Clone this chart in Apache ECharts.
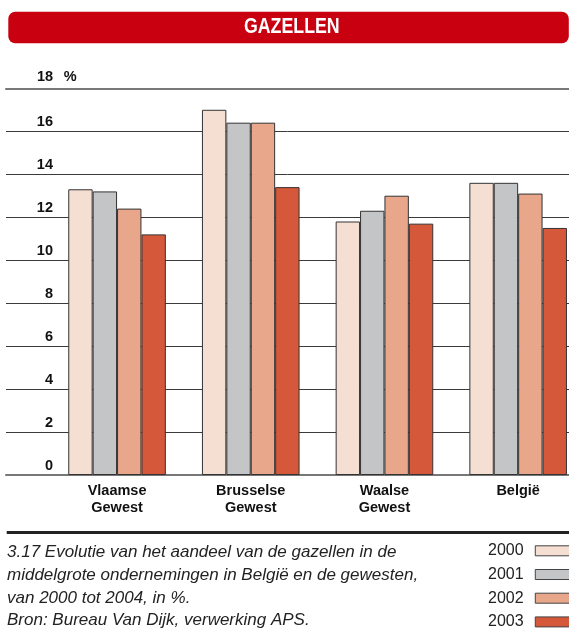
<!DOCTYPE html>
<html>
<head>
<meta charset="utf-8">
<script src="https://cdn.jsdelivr.net/npm/echarts@6/dist/echarts.min.js"></script>
<style>
html,body{margin:0;padding:0;background:#fff;}
#c{width:569px;height:641px;}
</style>
</head>
<body>
<div id="c"></div>
<script>
const categories = ['Vlaamse\nGewest', 'Brusselse\nGewest', 'Waalse\nGewest', 'België'];
const years = ['2000', '2001', '2002', '2003'];
const v2000 = [13.3, 17.0, 11.8, 13.6];
const v2001 = [13.2, 16.4, 12.3, 13.6];
const v2002 = [12.4, 16.4, 13.0, 13.1];
const v2003 = [11.2, 13.4, 11.7, 11.5];
const yMin = 0, yMax = 18, yStep = 2;
const unitLabel = '%';
const title = 'GAZELLEN';
const captionLines = [
  '3.17 Evolutie van het aandeel van de gazellen in de',
  'middelgrote ondernemingen in België en de gewesten,',
  'van 2000 tot 2004, in %.',
  'Bron: Bureau Van Dijk, verwerking APS.'
];
const colors = ['#F5DFD3', '#C4C5C7', '#E8A68B', '#D5583B'];
const values = [v2000, v2001, v2002, v2003];

const sans = '"Liberation Sans", Arial, sans-serif';

const chart = echarts.init(document.getElementById('c'), null, {renderer: 'canvas'});

const series = years.map((y, i) => ({
  name: y,
  type: 'bar',
  xAxisIndex: 2,
  yAxisIndex: 1,
  data: values[i],
  barWidth: 24.4,
  barGap: '0%',
  itemStyle: {color: colors[i], borderColor: '#333', borderWidth: 1},
  emphasis: {disabled: true},
  animation: false
}));

chart.setOption({
  animation: false,
  grid: [
    {left: 6, right: 0, top: 88.3, bottom: 166, outerBoundsMode: 'none', containLabel: false},
    {left: 50.2, width: 534.8, top: 88.3, bottom: 166, outerBoundsMode: 'none', containLabel: false}
  ],
  xAxis: [
    {gridIndex: 0, type: 'value', min: 0, max: 1, show: true, position: 'bottom',
     axisLine: {show: true, lineStyle: {color: '#777', width: 2}}, axisTick: {show: false},
     axisLabel: {show: false}, splitLine: {show: false}},
    {gridIndex: 0, type: 'value', min: 0, max: 1, show: true, position: 'top',
     axisLine: {show: true, lineStyle: {color: '#777', width: 2}}, axisTick: {show: false},
     axisLabel: {show: false}, splitLine: {show: false}},
    {gridIndex: 1, type: 'category', data: categories,
     axisLine: {show: false}, axisTick: {show: false},
     axisLabel: {fontFamily: sans, fontWeight: 'bold', fontSize: 14.5, lineHeight: 16.6, color: '#111', margin: 8, interval: 0}}
  ],
  yAxis: [
    {gridIndex: 0, type: 'value', min: yMin, max: yMax, interval: yStep,
     axisLine: {show: false}, axisTick: {show: false},
     splitLine: {show: true, lineStyle: {color: '#3a3a3a', width: 1}},
     axisLabel: {show: true, margin: -47, align: 'right', verticalAlign: 'bottom',
       fontFamily: sans, fontWeight: 'bold', fontSize: 14.5, lineHeight: 14.5, color: '#111',
       padding: [0, 0, 2, 0],
       formatter: v => (v === yMax ? '' : String(v))}},
    {gridIndex: 1, type: 'value', min: yMin, max: yMax, interval: yStep, show: false,
     splitLine: {show: false}}
  ],
  legend: {
    orient: 'vertical', left: 488, top: 542.8, align: 'right', padding: 0,
    itemWidth: 90, itemHeight: 10, itemGap: 7.7, icon: 'rect',
    selectedMode: false,
    itemStyle: {borderColor: '#444', borderWidth: 1},
    textStyle: {fontFamily: sans, fontSize: 16, lineHeight: 16, color: '#222', padding: [0, 6.7, 0, 0]},
    data: years
  },
  graphic: [
    {type: 'rect', left: 8.3, top: 11.7, shape: {width: 560.5, height: 31.6, r: 7}, style: {fill: '#C8000F'}, z: 10},
    {type: 'text', x: 291.8, y: 27.2, scaleX: 0.826, z: 11,
     style: {text: title, fill: '#fff', font: 'bold 21.5px ' + sans, align: 'center', verticalAlign: 'middle'}},
    {type: 'text', x: 37, y: 86.3, z: 11,
     style: {text: String(yMax), fill: '#111', font: 'bold 14.5px ' + sans, verticalAlign: 'bottom', lineHeight: 14.5, padding: [0, 0, 2, 0]}},
    {type: 'text', x: 63.8, y: 86.3, z: 11,
     style: {text: unitLabel, fill: '#111', font: 'bold 14.5px ' + sans, verticalAlign: 'bottom', lineHeight: 14.5, padding: [0, 0, 2, 0]}},
    {type: 'rect', left: 6.7, top: 531, shape: {width: 570, height: 3}, style: {fill: '#222'}, z: 10},
    {type: 'text', x: 7, y: 540.9, z: 11,
     style: {text: captionLines.join('\n'), fill: '#222', font: 'italic 17px ' + sans, lineHeight: 22.8}}
  ],
  series: series
});
</script>
</body>
</html>
